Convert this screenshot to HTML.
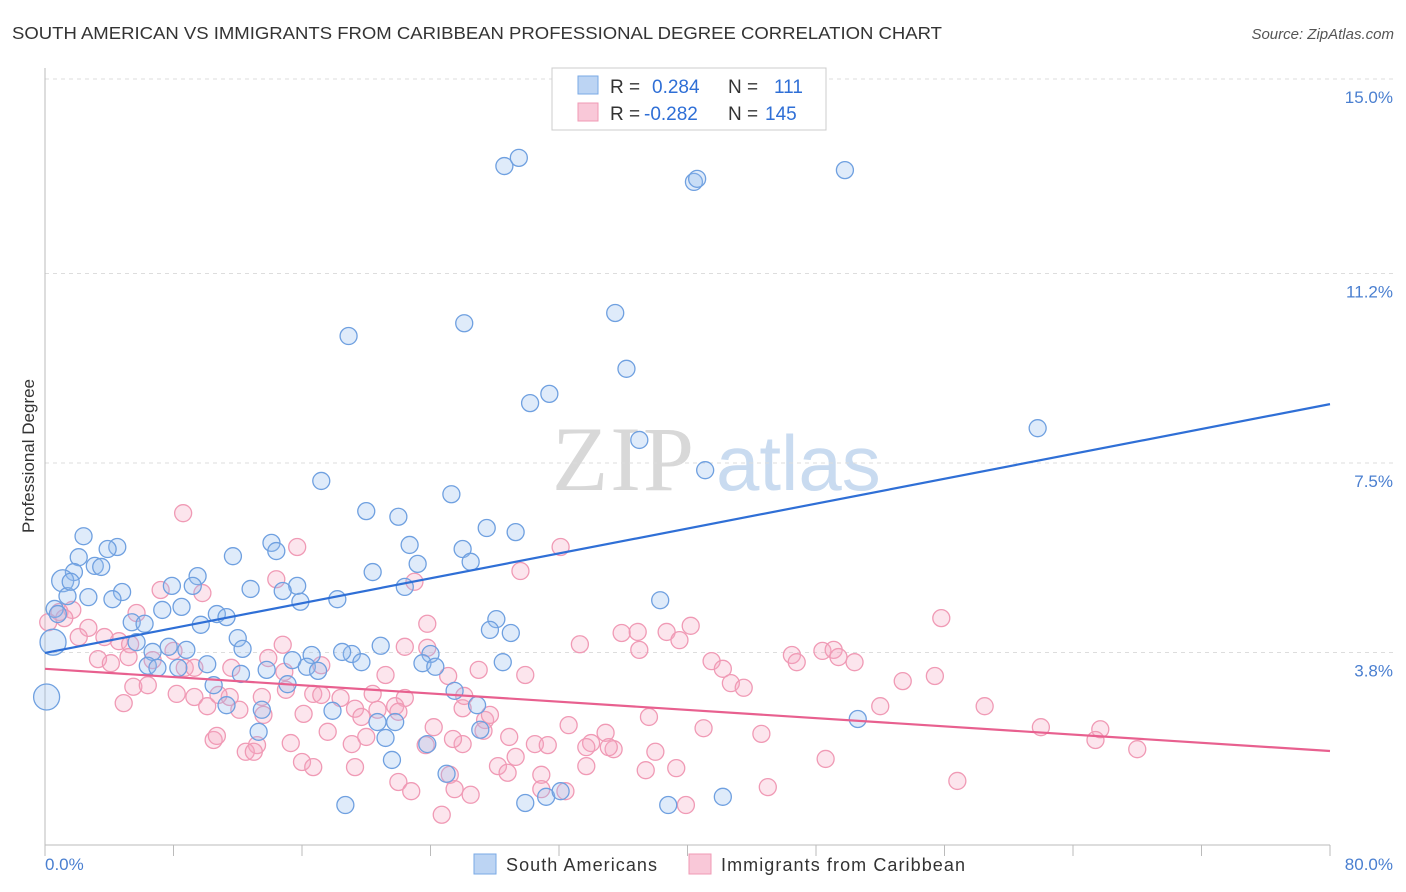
<!DOCTYPE html>
<html><head><meta charset="utf-8"><style>
body{margin:0;background:#fff;font-family:"Liberation Sans",sans-serif;}
svg{display:block}
</style></head><body>
<svg id="chart" width="1406" height="892" xmlns="http://www.w3.org/2000/svg">
<text x="12" y="39" font-size="17.5" fill="#333" textLength="930" lengthAdjust="spacingAndGlyphs">SOUTH AMERICAN VS IMMIGRANTS FROM CARIBBEAN PROFESSIONAL DEGREE CORRELATION CHART</text>
<text x="1394" y="39" font-size="15" fill="#555" font-style="italic" text-anchor="end">Source: ZipAtlas.com</text>
<g>
<text x="552" y="490" font-size="92" font-family="Liberation Serif,serif" fill="#d8d8d8" letter-spacing="2">ZIP</text>
<text x="716" y="490" font-size="78" fill="#c9dbf0">atlas</text>
</g>
<g id="grid"></g>
<g id="axes"></g>
<g id="pts"></g>
<g id="lines"></g>
<text transform="translate(34,456) rotate(-90)" font-size="17" fill="#333" text-anchor="middle">Professional Degree</text>
<text x="45" y="870" font-size="17" fill="#4a7fd0">0.0%</text>
<text x="1393" y="870" font-size="17" fill="#4a7fd0" text-anchor="end">80.0%</text>
<g>
<rect x="552" y="68" width="274" height="62" fill="#fff" stroke="#ccc"/>
<rect x="578" y="76" width="20" height="18" fill="#bcd4f3" stroke="#7aaae6"/>
<rect x="578" y="103" width="20" height="18" fill="#f9c8d8" stroke="#f09ab5"/>
<text x="610" y="93" font-size="19" fill="#333">R = <tspan fill="#2f6fd6" x="652">0.284</tspan><tspan x="728" fill="#333">N =</tspan><tspan x="774" fill="#2f6fd6">111</tspan></text>
<text x="610" y="120" font-size="19" fill="#333">R = <tspan fill="#2f6fd6" x="644">-0.282</tspan><tspan x="728" fill="#333">N =</tspan><tspan x="765" fill="#2f6fd6">145</tspan></text>
</g>
<g>
<rect x="474" y="854" width="22" height="20" fill="#bcd4f3" stroke="#7aaae6"/>
<text x="506" y="871" font-size="18" fill="#333" textLength="151">South Americans</text>
<rect x="689" y="854" width="22" height="20" fill="#f9c8d8" stroke="#f09ab5"/>
<text x="721" y="871" font-size="18" fill="#333" textLength="244">Immigrants from Caribbean</text>
</g>
</svg>
<script>
const yTicks=[3.8,7.5,11.2,15.0];
const yTickLabels=["3.8%","7.5%","11.2%","15.0%"];
const xTicks=[0,8,16,24,32,40,48,56,64,72,80];
const blueX=[28.6,29.5,40.4,40.6,49.8,18.9,26.1,35.5,36.2,31.4,30.2,37.0,61.8,41.1,17.2,25.3,20.0,22.0,27.5,29.3,2.4,4.5,3.9,2.1,14.1,14.4,22.7,26.0,26.5,23.2,11.7,3.1,3.5,1.8,1.1,20.4,9.5,7.9,9.2,15.7,12.8,14.8,22.4,4.8,2.7,1.4,4.2,18.2,15.9,38.3,8.5,7.3,0.6,10.7,11.3,28.1,27.7,29.0,5.4,6.2,9.7,12.0,5.7,7.7,8.8,12.3,6.7,19.1,20.9,16.6,18.5,15.4,24.0,19.7,23.5,24.3,28.5,10.1,6.4,7.0,8.3,13.8,12.2,16.3,17.0,10.5,15.1,25.5,11.3,17.9,26.9,13.5,20.7,21.8,50.6,13.3,27.1,21.2,23.8,21.6,25.0,18.7,29.9,31.2,32.1,38.8,42.2,0.1,0.5,0.8,1.6];
const blueY=[13.3,13.46,12.99,13.05,13.22,9.98,10.23,10.43,9.34,8.85,8.67,7.95,8.18,7.36,7.15,6.89,6.56,6.45,6.23,6.15,6.07,5.86,5.82,5.66,5.94,5.78,5.90,5.82,5.57,5.53,5.68,5.49,5.47,5.37,5.20,5.37,5.29,5.10,5.10,5.10,5.04,5.00,5.08,4.98,4.88,4.90,4.84,4.84,4.79,4.82,4.69,4.63,4.65,4.55,4.49,4.45,4.24,4.18,4.39,4.36,4.34,4.08,4.00,3.91,3.85,3.87,3.81,3.77,3.93,3.75,3.81,3.65,3.77,3.61,3.59,3.52,3.61,3.57,3.54,3.50,3.50,3.46,3.38,3.52,3.44,3.16,3.18,3.05,2.77,2.66,2.77,2.68,2.44,2.44,2.50,2.25,2.29,2.13,2.01,1.70,1.43,0.82,0.86,0.98,1.09,0.82,0.98,2.93,4.00,4.55,5.18];
const blueBig=[0,0,0,0,0,0,0,0,0,0,0,0,0,0,0,0,0,0,0,0,0,0,0,0,0,0,0,0,0,0,0,0,0,0,1,0,0,0,0,0,0,0,0,0,0,0,0,0,0,0,0,0,0,0,0,0,0,0,0,0,0,0,0,0,0,0,0,0,0,0,0,0,0,0,0,0,0,0,0,0,0,0,0,0,0,0,0,0,0,0,0,0,0,0,0,0,0,0,0,0,0,0,0,0,0,0,0,2,2,0,0];
const pinkX=[8.6,32.1,15.7,29.6,14.4,23.0,7.2,9.8,1.7,0.9,1.2,5.7,55.8,23.8,40.2,35.9,36.9,38.7,39.5,33.3,2.7,2.1,4.6,3.7,5.3,8.0,3.3,4.1,5.2,6.7,8.7,9.3,46.5,46.8,48.4,49.1,49.4,50.4,41.5,42.2,37.0,23.8,22.4,14.8,13.9,11.6,14.9,17.2,21.2,25.1,27.0,29.9,42.7,43.5,53.4,55.4,5.5,6.4,8.2,9.3,10.1,11.5,12.1,10.8,13.5,13.6,15.0,16.7,17.2,18.4,20.4,22.4,19.3,26.0,26.1,21.8,4.9,16.1,19.7,20.7,22.0,27.4,27.7,27.3,26.0,32.6,34.9,37.6,41.0,44.6,52.0,58.5,62.0,65.7,65.4,68.0,10.5,10.7,13.2,12.5,13.0,15.3,17.6,19.1,20.0,24.2,23.7,25.4,28.9,30.5,31.3,34.0,33.7,35.4,35.1,38.0,29.3,33.7,28.2,28.8,30.9,16.0,16.7,19.3,22.0,22.8,25.2,26.5,25.5,32.4,30.9,37.4,39.3,39.9,45.0,48.6,56.8,24.7,0.2];
const pinkY=[6.52,5.86,5.86,5.39,5.23,5.18,5.02,4.96,4.63,4.59,4.47,4.57,4.47,4.36,4.32,4.18,4.20,4.20,4.04,3.96,4.28,4.10,4.02,4.10,3.96,3.83,3.67,3.59,3.71,3.65,3.50,3.50,3.75,3.61,3.83,3.85,3.71,3.61,3.63,3.48,3.85,3.89,3.91,3.95,3.69,3.50,3.42,3.55,3.36,3.34,3.46,3.36,3.20,3.11,3.24,3.34,3.13,3.16,2.99,2.93,2.75,2.93,2.68,2.97,2.93,2.58,3.07,2.99,2.97,2.91,2.99,2.91,2.70,2.71,2.95,2.75,2.81,2.60,2.54,2.68,2.64,2.48,2.58,2.27,2.01,2.38,2.23,2.54,2.32,2.21,2.75,2.75,2.34,2.30,2.09,1.91,2.09,2.17,1.99,1.86,1.86,2.03,2.25,2.01,2.15,2.34,1.99,2.11,2.15,2.01,1.99,2.03,1.95,1.91,1.95,1.86,1.76,1.58,1.58,1.45,1.41,1.66,1.56,1.56,1.27,1.09,1.41,1.02,1.13,1.09,1.13,1.50,1.54,0.82,1.17,1.72,1.29,0.63,4.39];
const blueTrend=[3.79,8.65];
const pinkTrend=[3.48,1.875];
const NS="http://www.w3.org/2000/svg";
const X=v=>45+v*(1330-45)/80;
const Y=v=>847-v*51.2;
function mk(tag,parent,attrs){const e=document.createElementNS(NS,tag);for(const k in attrs)e.setAttribute(k,attrs[k]);document.getElementById(parent).appendChild(e);return e;}
yTicks.forEach((t,i)=>{
 const g=mk('line','grid',{x1:45,x2:1393,y1:Y(t),y2:Y(t),stroke:'#ddd','stroke-dasharray':'4,4'});
 
 
 const l=mk('text','grid',{x:1393,y:Y(t)+24,'font-size':17,fill:'#4a7fd0','text-anchor':'end'});
 l.textContent=yTickLabels[i];
 
 
});
const ya=mk('line','axes',{x1:45,x2:45,y1:68,y2:845,stroke:'#bbb'});


const xa=mk('line','axes',{x1:45,x2:1330,y1:845,y2:845,stroke:'#bbb'});


xTicks.forEach(t=>{
 const k=mk('line','axes',{x1:X(t),x2:X(t),y1:845,y2:856,stroke:'#bbb'});
 
 
});
function dots(xs,ys,big,fill,stroke,name){
 xs.forEach((x,i)=>{
  const r=big&&big[i]?(big[i]===2?13:11):8.5;
  const c=mk('circle','pts',{cx:X(x),cy:Y(ys[i]),r:r,fill:fill,stroke:stroke,'stroke-width':1.3});
  
  
 });
}
dots(pinkX,pinkY,null,'rgba(246,170,195,0.3)','#f09ab5','caribbean-point');
dots(blueX,blueY,blueBig,'rgba(150,190,240,0.3)','#6fa0e0','south-american-point');
const bl=mk('line','lines',{x1:X(0),x2:X(80),y1:Y(blueTrend[0]),y2:Y(blueTrend[1]),stroke:'#2f6fd6','stroke-width':2.2});


const pl=mk('line','lines',{x1:X(0),x2:X(80),y1:Y(pinkTrend[0]),y2:Y(pinkTrend[1]),stroke:'#e8608f','stroke-width':2.2});


</script>
</body></html>
